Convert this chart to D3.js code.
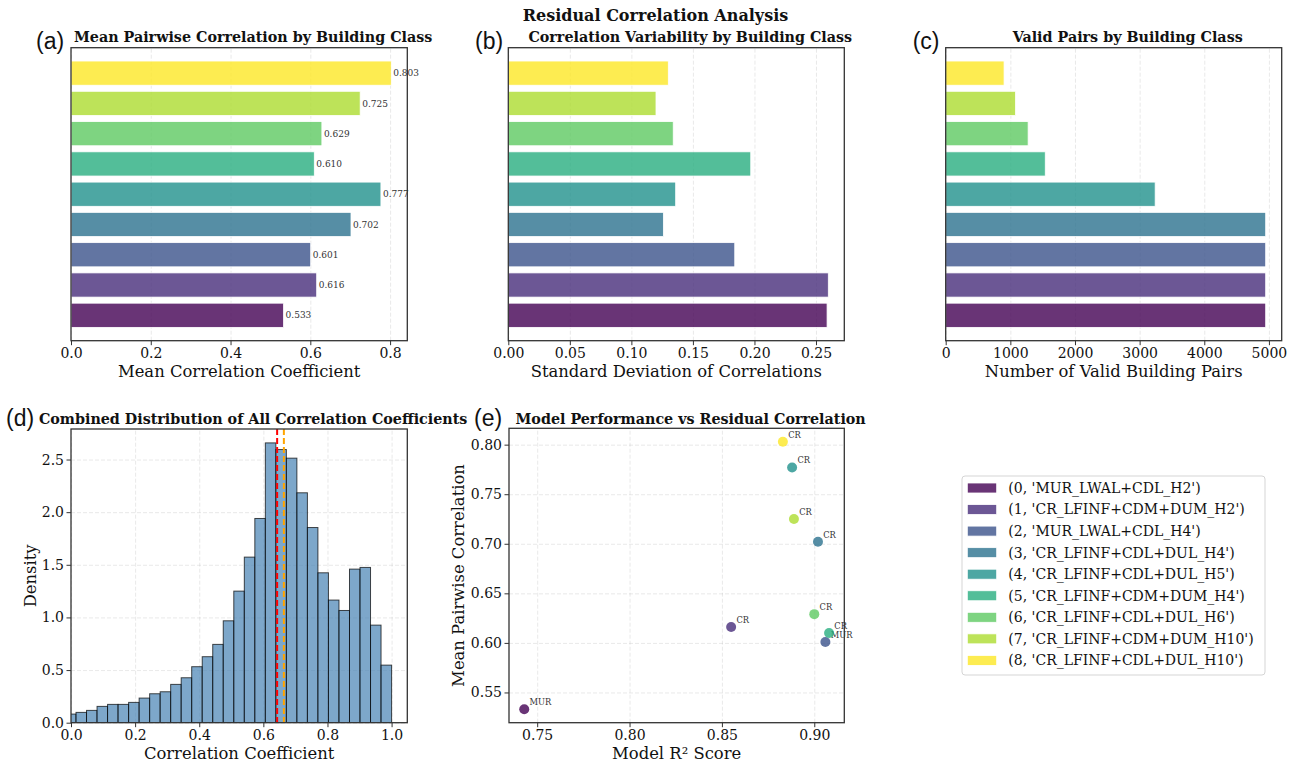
<!DOCTYPE html>
<html>
<head>
<meta charset="utf-8">
<script src="https://cdn.jsdelivr.net/npm/d3@7"></script>
<style>
    body { margin: 0; background: #fff; }
    svg { display: block; font-family: 'DejaVu Serif', serif; }
    .tick text { font-family: 'DejaVu Serif', serif; font-size: 14px; fill: #111; }
    .tick line { stroke: #333; stroke-width: 1; }
    .domain { display: none; }
    .grid line { stroke: #b0b0b0; stroke-opacity: 0.35; stroke-dasharray: 4,2; stroke-width: 0.8; }
    .grid text, .grid .domain { display: none; }
    .frame { fill: none; stroke: #333; stroke-width: 1.3; }
    .panelTitle { font-weight: bold; font-size: 14.3px; text-anchor: middle; fill: #111; }
    .panelTag { font-family: 'Liberation Sans', Arial, sans-serif; font-size: 23px; fill: #111; }
    .axisTitle { font-size: 16.4px; text-anchor: middle; fill: #111; }
    .valueLabel { font-size: 9px; fill: #333; }
    .pointLabel { font-size: 8.3px; fill: #333; }
    .legendText { font-size: 14px; fill: #111; }
</style>
</head>
<body>
<script>
'use strict';

// building classes, in plotting order (0 at the bottom of the bar charts)
const classNames = [
    "(0, 'MUR_LWAL+CDL_H2')",
    "(1, 'CR_LFINF+CDM+DUM_H2')",
    "(2, 'MUR_LWAL+CDL_H4')",
    "(3, 'CR_LFINF+CDL+DUL_H4')",
    "(4, 'CR_LFINF+CDL+DUL_H5')",
    "(5, 'CR_LFINF+CDM+DUM_H4')",
    "(6, 'CR_LFINF+CDL+DUL_H6')",
    "(7, 'CR_LFINF+CDM+DUM_H10')",
    "(8, 'CR_LFINF+CDL+DUL_H10')"
];
const structureType = ['MUR', 'CR', 'MUR', 'CR', 'CR', 'CR', 'CR', 'CR', 'CR'];
const meanCorrelation = [0.533, 0.616, 0.601, 0.702, 0.777, 0.610, 0.629, 0.725, 0.803];
const stdCorrelation = [0.259, 0.260, 0.184, 0.126, 0.136, 0.197, 0.134, 0.120, 0.130];
const validPairs = [4950, 4950, 4950, 4950, 3240, 1540, 1275, 1081, 903];
const modelR2 = [0.743, 0.855, 0.906, 0.902, 0.888, 0.908, 0.900, 0.889, 0.883];

// histogram of all pairwise correlation coefficients (density)
const histBinEdges = [
    -0.0172, 0.0156, 0.0484, 0.0812, 0.1140, 0.1468, 0.1797, 0.2125, 0.2453, 0.2781,
    0.3109, 0.3437, 0.3765, 0.4093, 0.4421, 0.4749, 0.5078, 0.5406, 0.5734, 0.6062,
    0.6390, 0.6718, 0.7046, 0.7374, 0.7702, 0.8030, 0.8359, 0.8687, 0.9015, 0.9343,
    0.9671, 1.0000
];
const histDensity = [
    0.082, 0.098, 0.117, 0.155, 0.174, 0.174, 0.193, 0.234, 0.275, 0.294,
    0.364, 0.427, 0.532, 0.627, 0.744, 0.968, 1.250, 1.573, 1.940, 2.658,
    2.595, 2.513, 2.184, 1.854, 1.424, 1.165, 1.066, 1.459, 1.475, 0.927,
    0.547
];
const meanAllCorr = 0.643;
const medianAllCorr = 0.664;

// tick labels
const ticksA = [0, 0.2, 0.4, 0.6, 0.8];
const ticksB = [0, 0.05, 0.10, 0.15, 0.20, 0.25];
const ticksC = [0, 1000, 2000, 3000, 4000, 5000];
const ticksDx = [0, 0.2, 0.4, 0.6, 0.8, 1.0];
const ticksDy = [0, 0.5, 1.0, 1.5, 2.0, 2.5];
const ticksEx = [0.75, 0.80, 0.85, 0.90];
const ticksEy = [0.55, 0.60, 0.65, 0.70, 0.75, 0.80];

const viridis9 = ['#440154', '#472d7b', '#3b528b', '#2c728e', '#21918c', '#28ae80', '#5ec962', '#addc30', '#fde725'];


function panelBox(left, top, right, bottom) {
    return { left: left, top: top, width: right - left, height: bottom - top };
}

const layout = {
    a: panelBox(71, 47.7, 407.3, 340.7),
    b: panelBox(508.3, 47.7, 844.3, 340.7),
    c: panelBox(945.7, 47.7, 1281.7, 340.7),
    d: panelBox(71, 429, 407.3, 722.7),
    e: panelBox(509, 428.3, 844.3, 722.7)
};


function makeGroup(svg, box) {
    return svg.append('g').attr('transform', 'translate(' + box.left + ',' + box.top + ')');
}


function appendFrame(g, box) {
    g.append('rect')
        .attr('class', 'frame')
        .attr('width', box.width)
        .attr('height', box.height);
}


function appendXGrid(g, x, ticks, box) {
    g.append('g')
        .attr('class', 'grid')
        .attr('transform', 'translate(0,' + box.height + ')')
        .call(d3.axisBottom(x).tickValues(ticks).tickSize(-box.height).tickFormat(''));
}


function appendYGrid(g, y, ticks, box) {
    g.append('g')
        .attr('class', 'grid')
        .call(d3.axisLeft(y).tickValues(ticks).tickSize(-box.width).tickFormat(''));
}


function appendXAxis(g, x, ticks, fmt, box, label) {
    g.append('g')
        .attr('transform', 'translate(0,' + box.height + ')')
        .call(d3.axisBottom(x).tickValues(ticks).tickFormat(d3.format(fmt)).tickSize(4.5).tickPadding(3));
    g.append('text')
        .attr('class', 'axisTitle')
        .attr('x', box.width / 2)
        .attr('y', box.height + 36)
        .text(label);
}


function appendYAxis(g, y, ticks, fmt, box, label, labelX) {
    g.append('g')
        .call(d3.axisLeft(y).tickValues(ticks).tickFormat(d3.format(fmt)).tickSize(4.5).tickPadding(2.5));
    g.append('text')
        .attr('class', 'axisTitle')
        .attr('dy', '0.35em')
        .attr('transform', 'translate(' + labelX + ',' + (box.height / 2) + ') rotate(-90)')
        .text(label);
}


function appendTitles(svg, box, title, tag, titleBaseline, tagX, tagBaseline) {
    svg.append('text')
        .attr('class', 'panelTitle')
        .attr('x', box.left + box.width / 2 + 14)
        .attr('y', titleBaseline)
        .text(title);
    svg.append('text')
        .attr('class', 'panelTag')
        .attr('x', tagX)
        .attr('y', tagBaseline)
        .text(tag);
}


/**
 * Horizontal bar chart, one bar per building class (class 0 at the bottom).
 */
function drawBarPanel(svg, box, values, ticks, fmt, xLabel, withValues) {
    const g = makeGroup(svg, box);
    const x = d3.scaleLinear()
        .domain([0, d3.max(values) * 1.05])
        .range([0, box.width]);
    const y = d3.scaleLinear()
        .domain([-0.84, values.length - 1 + 0.84])
        .range([box.height, 0]);
    appendXGrid(g, x, ticks, box);
    g.append('g')
        .selectAll('rect')
        .data(values)
        .enter()
        .append('rect')
        .attr('x', x(0))
        .attr('y', (d, i) => y(i + 0.4))
        .attr('width', (d) => x(d) - x(0))
        .attr('height', (d, i) => y(i - 0.4) - y(i + 0.4))
        .attr('fill', (d, i) => viridis9[i])
        .attr('fill-opacity', 0.8)
        .attr('stroke', '#fff')
        .attr('stroke-width', 0.8);
    if (withValues) {
        g.append('g')
            .selectAll('text')
            .data(values)
            .enter()
            .append('text')
            .attr('class', 'valueLabel')
            .attr('x', (d) => x(d + 0.005))
            .attr('y', (d, i) => y(i))
            .attr('dy', '0.35em')
            .text((d) => d3.format('.3f')(d));
    }
    appendFrame(g, box);
    appendXAxis(g, x, ticks, fmt, box, xLabel);
}


/**
 * Histogram of all correlation coefficients with mean / median markers.
 */
function drawHistogram(svg, box) {
    const g = makeGroup(svg, box);
    const x = d3.scaleLinear().domain([0, 1.049]).range([0, box.width]);
    const y = d3.scaleLinear().domain([0, 2.79]).range([box.height, 0]);
    svg.append('defs').append('clipPath')
        .attr('id', 'histClip')
        .append('rect')
        .attr('width', box.width)
        .attr('height', box.height);
    appendXGrid(g, x, ticksDx, box);
    appendYGrid(g, y, ticksDy, box);
    const bins = histDensity.map((d, i) => ({ x0: histBinEdges[i], x1: histBinEdges[i + 1], density: d }));
    const plotArea = g.append('g').attr('clip-path', 'url(#histClip)');
    plotArea.selectAll('rect')
        .data(bins)
        .enter()
        .append('rect')
        .attr('x', (d) => x(d.x0))
        .attr('y', (d) => y(d.density))
        .attr('width', (d) => x(d.x1) - x(d.x0))
        .attr('height', (d) => y(0) - y(d.density))
        .attr('fill', 'steelblue')
        .attr('fill-opacity', 0.7)
        .attr('stroke', '#000')
        .attr('stroke-opacity', 0.7)
        .attr('stroke-width', 1);
    plotArea.append('line')
        .attr('x1', x(meanAllCorr)).attr('x2', x(meanAllCorr))
        .attr('y1', 0).attr('y2', box.height)
        .attr('stroke', 'red')
        .attr('stroke-width', 2)
        .attr('stroke-dasharray', '6,3');
    plotArea.append('line')
        .attr('x1', x(medianAllCorr)).attr('x2', x(medianAllCorr))
        .attr('y1', 0).attr('y2', box.height)
        .attr('stroke', 'orange')
        .attr('stroke-width', 2)
        .attr('stroke-dasharray', '6,3');
    appendFrame(g, box);
    appendXAxis(g, x, ticksDx, '.1f', box, 'Correlation Coefficient');
    appendYAxis(g, y, ticksDy, '.1f', box, 'Density', 30 - box.left);
}


/**
 * Scatter of model R² vs mean pairwise correlation, labelled by structure type.
 */
function drawScatter(svg, box) {
    const g = makeGroup(svg, box);
    const xPad = (d3.max(modelR2) - d3.min(modelR2)) * 0.05;
    const yPad = (d3.max(meanCorrelation) - d3.min(meanCorrelation)) * 0.05;
    const x = d3.scaleLinear()
        .domain([d3.min(modelR2) - xPad, d3.max(modelR2) + xPad])
        .range([0, box.width]);
    const y = d3.scaleLinear()
        .domain([d3.min(meanCorrelation) - yPad, d3.max(meanCorrelation) + yPad])
        .range([box.height, 0]);
    appendXGrid(g, x, ticksEx, box);
    appendYGrid(g, y, ticksEy, box);
    const points = g.append('g')
        .selectAll('g')
        .data(modelR2)
        .enter()
        .append('g');
    points.append('circle')
        .attr('cx', (d) => x(d))
        .attr('cy', (d, i) => y(meanCorrelation[i]))
        .attr('r', 5)
        .attr('fill', (d, i) => viridis9[i])
        .attr('fill-opacity', 0.8);
    points.append('text')
        .attr('class', 'pointLabel')
        .attr('x', (d) => x(d) + 5.3)
        .attr('y', (d, i) => y(meanCorrelation[i]) - 4)
        .text((d, i) => structureType[i]);
    appendFrame(g, box);
    appendXAxis(g, x, ticksEx, '.2f', box, 'Model R\u00b2 Score');
    appendYAxis(g, y, ticksEy, '.2f', box, 'Mean Pairwise Correlation', 458.3 - box.left);
}


function drawLegend(svg) {
    const legend = svg.append('g').attr('transform', 'translate(962,476)');
    legend.append('rect')
        .attr('width', 303)
        .attr('height', 199)
        .attr('rx', 3)
        .attr('fill', '#fff')
        .attr('stroke', '#d5d5d5')
        .attr('stroke-width', 1);
    const rows = legend.selectAll('g.row')
        .data(classNames)
        .enter()
        .append('g')
        .attr('class', 'row')
        .attr('transform', (d, i) => 'translate(0,' + (12 + i * 21.55) + ')');
    rows.append('rect')
        .attr('x', 5.3)
        .attr('y', -5)
        .attr('width', 29.4)
        .attr('height', 10)
        .attr('fill', (d, i) => viridis9[i])
        .attr('fill-opacity', 0.8)
        .attr('stroke', '#fff')
        .attr('stroke-width', 0.8);
    rows.append('text')
        .attr('class', 'legendText')
        .attr('x', 46.3)
        .attr('dy', '0.35em')
        .text((d) => d);
}


function draw() {
    const svg = d3.select('body').append('svg')
        .attr('width', 1296)
        .attr('height', 766);
    svg.append('rect').attr('width', 1296).attr('height', 766).attr('fill', '#fff');

    svg.append('text')
        .attr('x', 655.5)
        .attr('y', 20.5)
        .attr('text-anchor', 'middle')
        .attr('font-weight', 'bold')
        .attr('font-size', '16px')
        .attr('fill', '#111')
        .text('Residual Correlation Analysis');

    drawBarPanel(svg, layout.a, meanCorrelation, ticksA, '.1f', 'Mean Correlation Coefficient', true);
    appendTitles(svg, layout.a, 'Mean Pairwise Correlation by Building Class', '(a)', 42, 36, 49);

    drawBarPanel(svg, layout.b, stdCorrelation, ticksB, '.2f', 'Standard Deviation of Correlations', false);
    appendTitles(svg, layout.b, 'Correlation Variability by Building Class', '(b)', 42, 475, 49);

    drawBarPanel(svg, layout.c, validPairs, ticksC, 'd', 'Number of Valid Building Pairs', false);
    appendTitles(svg, layout.c, 'Valid Pairs by Building Class', '(c)', 42, 912.7, 49);

    drawHistogram(svg, layout.d);
    appendTitles(svg, layout.d, 'Combined Distribution of All Correlation Coefficients', '(d)', 424, 6, 425.5);

    drawScatter(svg, layout.e);
    appendTitles(svg, layout.e, 'Model Performance vs Residual Correlation', '(e)', 424, 474, 425.5);

    drawLegend(svg);
}

window.onload = draw;
</script>
</body>
</html>
